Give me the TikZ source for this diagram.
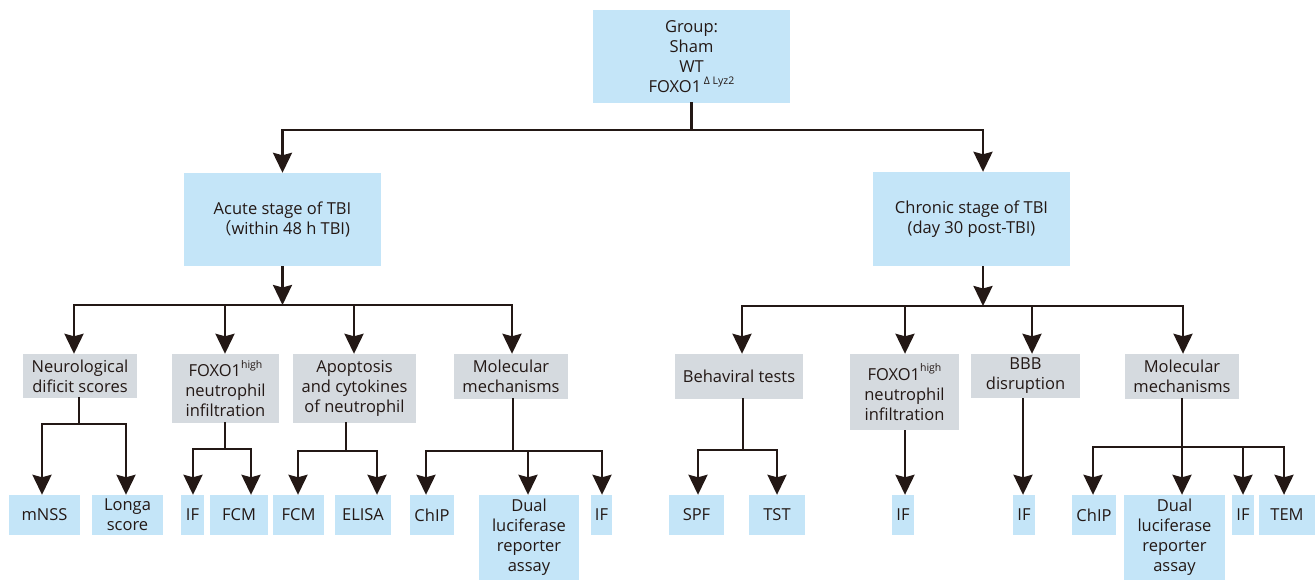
\documentclass[tikz,border=0pt]{standalone}
\usepackage{fontspec}
\setmainfont{Open Sans}
\newfontfamily\cjkf{Noto Sans CJK SC}
\usetikzlibrary{arrows.meta}
\definecolor{bl}{RGB}{196,229,248}
\definecolor{gr}{RGB}{213,218,223}
\definecolor{ink}{RGB}{35,24,21}
\newcommand{\supx}[1]{\raisebox{0.5em}{\fontsize{10.5}{10}\selectfont #1}}
\begin{document}
\begin{tikzpicture}[x=1pt,y=-1pt,
  box/.style={inner sep=0pt, align=center, font=\fontsize{16.5}{20}\selectfont, text=ink},
  bbox/.style={box, fill=bl},
  gbox/.style={box, fill=gr},
  ln/.style={draw=ink, line width=2.6pt, line cap=rect},
  arr/.style={draw=ink, line width=2.6pt, -{Stealth[length=20pt,width=19pt,inset=2.5pt]}},
]
\useasboundingbox[fill=white] (0,0) rectangle (1316,580);

% level 1
\node[bbox, minimum width=197pt, minimum height=93pt] (top) at (691.5,56.5)
  {Group:\\Sham\\WT\\FOXO1\,\supx{Δ Lyz2}};
% level 2
\node[bbox, minimum width=197pt, minimum height=93pt] (acute) at (282.5,219.5)
  {Acute stage of TBI\\{\cjkf （}within 48 h TBI)};
\node[bbox, minimum width=197pt, minimum height=94pt] (chronic) at (971.5,219)
  {Chronic stage of TBI\\(day 30 post-TBI)};
% level 3 acute
\node[gbox, minimum width=114pt, minimum height=44pt] (neuro) at (80,376) {Neurological\\dificit scores};
\node[gbox, minimum width=107pt, minimum height=69pt] (foxA) at (225.5,388.5) {FOXO1\supx{high}\\neutrophil\\infiltration};
\node[gbox, minimum width=123pt, minimum height=69pt] (apop) at (354.5,388.5) {Apoptosis\\and cytokines\\of neutrophil};
\node[gbox, minimum width=114pt, minimum height=45pt] (molA) at (511,376.5) {Molecular\\mechanisms};
% level 3 chronic
\node[gbox, minimum width=128pt, minimum height=45pt] (behav) at (739,376.5) {Behaviral tests};
\node[gbox, minimum width=109pt, minimum height=76pt] (foxC) at (904.5,392) {FOXO1\supx{high}\\neutrophil\\infiltration};
\node[gbox, minimum width=109pt, minimum height=44pt] (bbb) at (1025.5,376) {BBB\\disruption};
\node[gbox, minimum width=114pt, minimum height=45pt] (molC) at (1182,376.5) {Molecular\\mechanisms};
% leaves
\node[bbox, minimum width=71pt, minimum height=40pt] (mnss) at (44.5,515) {mNSS};
\node[bbox, minimum width=71pt, minimum height=40pt] (longa) at (127.5,515) {Longa\\score};
\node[bbox, minimum width=23pt, minimum height=40pt] (ifa) at (192.5,515) {IF};
\node[bbox, minimum width=58pt, minimum height=40pt] (fcma) at (239,515) {FCM};
\node[bbox, minimum width=51pt, minimum height=40pt] (fcmb) at (298.5,515) {FCM};
\node[bbox, minimum width=56pt, minimum height=40pt] (elisa) at (363,515) {ELISA};
\node[bbox, minimum width=44pt, minimum height=40pt] (chipa) at (432,515) {ChIP};
\node[bbox, minimum width=100pt, minimum height=85pt] (duala) at (529,537.5) {Dual\\luciferase\\reporter\\assay};
\node[bbox, minimum width=21pt, minimum height=40pt] (ifb) at (601.5,515) {IF};
\node[bbox, minimum width=55pt, minimum height=40pt] (spf) at (696.5,515) {SPF};
\node[bbox, minimum width=56pt, minimum height=40pt] (tst) at (777,515) {TST};
\node[bbox, minimum width=22pt, minimum height=40pt] (ifc) at (903,515) {IF};
\node[bbox, minimum width=22pt, minimum height=40pt] (ifd) at (1024,515) {IF};
\node[bbox, minimum width=44pt, minimum height=40pt] (chipb) at (1094,515) {ChIP};
\node[bbox, minimum width=101pt, minimum height=85pt] (dualb) at (1174.5,537.5) {Dual\\luciferase\\reporter\\assay};
\node[bbox, minimum width=22pt, minimum height=40pt] (ife) at (1243,515) {IF};
\node[bbox, minimum width=56pt, minimum height=40pt] (tem) at (1287,515) {TEM};

% top split
\coordinate (t0) at (691.5,130);
\coordinate (tL) at (282.5,130);
\coordinate (tR) at (983,130);
\draw[ln] (top.south) -- (t0);
\draw[ln] (tL) -- (tR);
\draw[arr] (tL) -- (tL |- acute.north);
\draw[arr] (tR) -- (tR |- chronic.north);

% acute split
\coordinate (a0) at (282.5,305);
\coordinate (aN) at (74,305);
\coordinate (aF) at (225,305);
\coordinate (aA) at (354,305);
\coordinate (aM) at (512,305);
\draw[arr] (acute.south) -- (a0);
\draw[ln] (aN) -- (aM);
\draw[arr] (aN) -- (aN |- neuro.north);
\draw[arr] (aF) -- (aF |- foxA.north);
\draw[arr] (aA) -- (aA |- apop.north);
\draw[arr] (aM) -- (aM |- molA.north);

% chronic split
\coordinate (c0) at (983,306);
\coordinate (cB) at (742,306);
\coordinate (cF) at (905,306);
\coordinate (cD) at (1032,306);
\coordinate (cM) at (1183,306);
\draw[arr] (chronic.south -| c0) -- (c0);
\draw[ln] (cB) -- (cM);
\draw[arr] (cB) -- (cB |- behav.north);
\draw[arr] (cF) -- (cF |- foxC.north);
\draw[arr] (cD) -- (cD |- bbb.north);
\draw[arr] (cM) -- (cM |- molC.north);

% neuro
\coordinate (n0) at (79,424);
\coordinate (n1) at (42,424);
\coordinate (n2) at (126,424);
\draw[ln] (neuro.south -| n0) -- (n0);
\draw[ln] (n1) -- (n2);
\draw[arr] (n1) -- (n1 |- mnss.north);
\draw[arr] (n2) -- (n2 |- longa.north);

% foxA
\coordinate (f0) at (225,449);
\coordinate (f1) at (193,449);
\coordinate (f2) at (251,449);
\draw[ln] (foxA.south -| f0) -- (f0);
\draw[ln] (f1) -- (f2);
\draw[arr] (f1) -- (f1 |- ifa.north);
\draw[arr] (f2) -- (f2 |- fcma.north);

% apop
\coordinate (p0) at (346,451);
\coordinate (p1) at (298,451);
\coordinate (p2) at (377,451);
\draw[ln] (apop.south -| p0) -- (p0);
\draw[ln] (p1) -- (p2);
\draw[arr] (p1) -- (p1 |- fcmb.north);
\draw[arr] (p2) -- (p2 |- elisa.north);

% molA
\coordinate (m0) at (513,451);
\coordinate (m1) at (426,451);
\coordinate (m2) at (528,451);
\coordinate (m3) at (602,451);
\draw[ln] (molA.south -| m0) -- (m0);
\draw[ln] (m1) -- (m3);
\draw[arr] (m1) -- (m1 |- chipa.north);
\draw[arr] (m2) -- (m2 |- duala.north);
\draw[arr] (m3) -- (m3 |- ifb.north);

% behav
\coordinate (b0) at (743,450);
\coordinate (b1) at (698,450);
\coordinate (b2) at (777,450);
\draw[ln] (behav.south -| b0) -- (b0);
\draw[ln] (b1) -- (b2);
\draw[arr] (b1) -- (b1 |- spf.north);
\draw[arr] (b2) -- (b2 |- tst.north);

% foxC, bbb
\coordinate (x0) at (905,430);
\draw[arr] (foxC.south -| x0) -- (x0 |- ifc.north);
\coordinate (y0) at (1023,398);
\draw[arr] (bbb.south -| y0) -- (y0 |- ifd.north);

% molC
\coordinate (k0) at (1182,447);
\coordinate (k1) at (1093,447);
\coordinate (k3) at (1243,447);
\coordinate (k4) at (1284,447);
\draw[ln] (molC.south -| k0) -- (k0);
\draw[ln] (k1) -- (k4);
\draw[arr] (k1) -- (k1 |- chipb.north);
\draw[arr] (k0) -- (k0 |- dualb.north);
\draw[arr] (k3) -- (k3 |- ife.north);
\draw[arr] (k4) -- (k4 |- tem.north);
\end{tikzpicture}
\end{document}
